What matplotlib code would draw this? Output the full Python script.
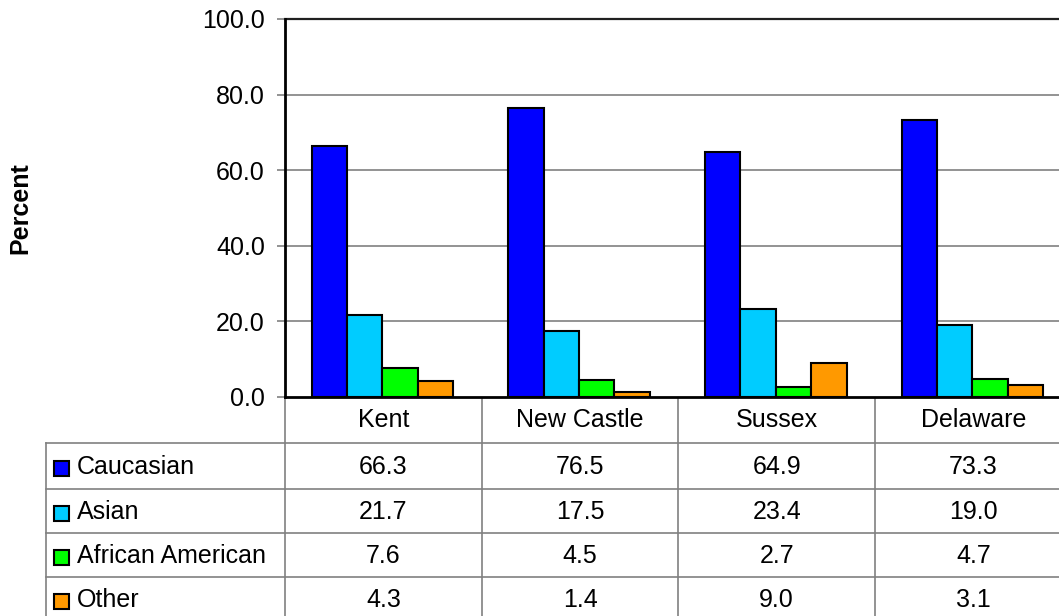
import numpy as np
import matplotlib.pyplot as plt
from matplotlib.transforms import blended_transform_factory
from matplotlib.patches import Rectangle

plt.rcParams['font.family'] = ['Liberation Sans', 'DejaVu Sans']

counties = ['Kent', 'New Castle', 'Sussex', 'Delaware']
groups = ['Caucasian', 'Asian', 'African American', 'Other']
caucasian = [66.3, 76.5, 64.9, 73.3]
asian = [21.7, 17.5, 23.4, 19.0]
african_american = [7.6, 4.5, 2.7, 4.7]
other = [4.3, 1.4, 9.0, 3.1]
series = [caucasian, asian, african_american, other]
colors = ['#0000FF', '#00CCFF', '#00FF00', '#FF9900']
yticks = [0, 20, 40, 60, 80, 100]

W, H = 1059, 616
fig = plt.figure(figsize=(W / 100, H / 100), dpi=100, facecolor='white')

# plot area in pixel terms: left edge 285, top 19, baseline 397, 196.7 px per county
x0, ytop, ybase, colw = 285, 19, 397, 196.7
ax = fig.add_axes([x0 / W, 1 - ybase / H, 4 * colw / W, (ybase - ytop) / H])

# overlay in pixel coords for the data table and the axis title
tab = fig.add_axes([0, 0, 1, 1], zorder=-1)
tab.set_xlim(0, W)
tab.set_ylim(H, 0)
tab.axis('off')

GRID = '#808080'
FS = 18

pos = np.arange(len(counties)) + 0.5
bw = 0.18
for i, (vals, c) in enumerate(zip(series, colors)):
    ax.bar(pos + (i - 1.5) * bw - 0.005, vals, width=bw, color=c,
           edgecolor='black', linewidth=1.5, zorder=3)

ax.set_xlim(0, len(counties))
ax.set_ylim(0, 100)
ax.set_yticks(yticks)
ax.set_yticklabels([f'{t:.1f}' for t in yticks], fontsize=FS)
ax.set_xticks([])
for t in yticks[1:-1]:
    ax.axhline(t, color=GRID, lw=1.2, zorder=1)
ax.axhline(100, color='#202020', lw=1.6, zorder=1, clip_on=False)
for s in ['top', 'right']:
    ax.spines[s].set_visible(False)
ax.spines['left'].set_linewidth(2)
ax.spines['bottom'].set_linewidth(2)
ax.spines['bottom'].set_zorder(4)
ax.tick_params(axis='y', direction='out', length=6, width=1.2, color=GRID,
               pad=8.5)

tab.text(20, 208, 'Percent', fontsize=FS, fontweight='bold', rotation=90,
         ha='center', va='center')

# data table under the chart
bt = blended_transform_factory(ax.transData, tab.transData)
rows = [443, 489, 533, 577, 621]
lx = 46
for y in rows:
    tab.plot([lx, x0 + 4 * colw], [y, y], color=GRID, lw=1.2)
tab.plot([lx, lx], [rows[0], rows[-1]], color=GRID, lw=1.2)
tab.plot([x0, x0], [ybase, rows[-1]], color=GRID, lw=1.2)
for k in range(1, len(counties) + 1):
    tab.plot([k, k], [ybase, rows[-1]], color=GRID, lw=1.2, transform=bt)

for k, name in enumerate(counties):
    tab.text(pos[k], (ybase + rows[0]) / 2, name, fontsize=FS, ha='center',
             va='center', transform=bt)

for r, (g, vals, c) in enumerate(zip(groups, series, colors)):
    yc = (rows[r] + rows[r + 1]) / 2
    tab.add_patch(Rectangle((54, yc - 7.5 + 2), 15, 15, facecolor=c,
                            edgecolor='black', lw=1.5))
    tab.text(77, yc + 1, g, fontsize=FS, ha='left', va='center')
    for k, v in enumerate(vals):
        tab.text(pos[k], yc + 1, f'{v:.1f}', fontsize=FS, ha='center',
                 va='center', transform=bt)

fig.savefig('out.png', dpi=100, facecolor='white')
